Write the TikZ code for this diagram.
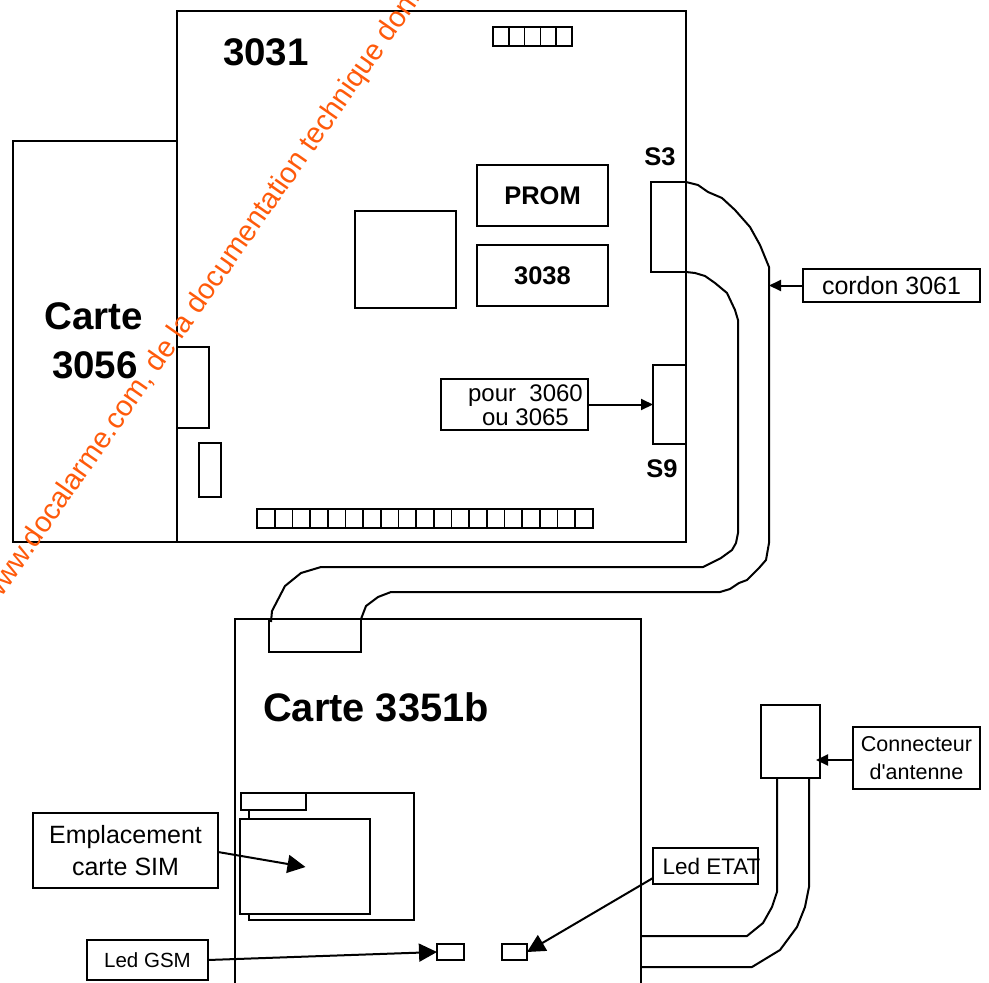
\documentclass[tikz,border=0pt]{standalone}
\usepackage{fontspec}
\setmainfont{Liberation Sans}
\usetikzlibrary{arrows.meta}
\definecolor{wmOrange}{HTML}{FF5A0A}
\newcommand{\fs}[1]{\fontsize{#1}{#1}\selectfont}
\tikzset{
  part/.style={draw, line width=1.7pt, inner sep=0pt, outer sep=0pt, anchor=north west},
  cell/.style={part, minimum width=#1, minimum height=19pt},
  cable/.style={line width=2pt, line join=round},
  title/.style={font=\fs{38.5}\bfseries, inner sep=0pt},
  chip/.style={font=\fs{25.5}\bfseries, inner sep=0pt},
  note/.style={font=\fs{#1}, inner sep=0pt, align=center},
  tipbig/.style={line width=2pt, -{Triangle[length=18pt, width=18pt]}},
  tipsmall/.style={line width=2pt, -{Triangle[length=12pt, width=11pt]}},
}
\begin{document}
\begin{tikzpicture}[x=1pt, y=-1pt]
\clip (0,0) rectangle (989,983);
% cartes
\node[part, minimum width=509pt, minimum height=531pt] (board3031) at (177,11) {};
\node[part, minimum width=164pt, minimum height=401pt] (board3056) at (13,141) {};
\node[part, minimum width=406pt, minimum height=400pt] (board3351) at (235,619) {};
\node[title] (t3031) at (266,52) {3031};
\node[title] (tcarte) at (94,316) {Carte};
\node[title] (t3056) at (95,365) {3056};
\node[title, font=\fs{39.8}\bfseries] (t3351) at (376,707) {Carte 3351b};
% composants 3031
\node[part, minimum width=101pt, minimum height=97pt] (cpu) at (355,211) {};
\node[part, minimum width=131pt, minimum height=61pt] (prom) at (477,165) {};
\node[chip] at (prom.center) {PROM};
\node[part, minimum width=131pt, minimum height=61pt] (c3038) at (477,245) {};
\node[chip] at (c3038.center) {3038};
\node[part, minimum width=32pt, minimum height=81pt] (conn3056) at (177,347) {};
\node[part, minimum width=22pt, minimum height=54pt] (jumper) at (199,443) {};
\node[part, minimum width=35pt, minimum height=90pt] (s3) at (651,182) {};
\node[part, minimum width=33pt, minimum height=79pt] (s9) at (653,365) {};
\node[chip] (ts3) at (660,157) {S3};
\node[chip] (ts9) at (662,469) {S9};
% barrettes
\foreach \i in {0,...,4} {
  \node[cell=15.8pt] (top\i) at (493+15.8*\i,27) {};
}
\foreach \i in {0,...,18} {
  \node[cell=17.68pt] (bot\i) at (257+17.68*\i,509) {};
}
% cordon 3061
\node[part, minimum width=92pt, minimum height=33pt] (sock) at (269,619) {};
\draw[cable] (s3.north east) -- (698,185) -- (708,192) -- (722,198) -- (735,210) -- (750,227)
  -- (760,245) -- (769,267) -- (769,543) -- (766,560) -- (759,568) -- (747,580) -- (739,583)
  -- (730,589) -- (720,592) -- (391,592) -- (378,597) -- (366,606) -- (sock.north east);
\draw[cable] (s3.south east) -- (695,273) -- (705,276) -- (715,283) -- (727,293) -- (735,310)
  -- (738,320) -- (738,533) -- (736,543) -- (732,550) -- (721,558) -- (703,567) -- (321,567)
  -- (301,573) -- (285,586) -- (272,611) -- (271,622);
% etiquettes
\node[part, minimum width=177pt, minimum height=33pt, note=25] (cordon) at (803,269) {cordon 3061};
\coordinate (cordontip) at (769,285.5);
\draw[tipsmall] (cordon.west) -- (cordontip);
\node[part, minimum width=147pt, minimum height=51pt] (pour) at (441,379) {};
\node[note=24] (tpour) at (525.5,405) {pour\ \ 3060\\[0pt]ou 3065};
\draw[tipsmall] (pour.east) -- (s9.west);
% carte 3351b
\node[part, minimum width=165pt, minimum height=127pt] (simout) at (249,793) {};
\node[part, fill=white, minimum width=65pt, minimum height=17pt] (simtab) at (241,793) {};
\node[part, fill=white, minimum width=130pt, minimum height=95pt] (sim) at (240,819) {};
\node[part, minimum width=27pt, minimum height=16pt] (ledgsm) at (437,944) {};
\node[part, minimum width=25pt, minimum height=16pt] (ledetat) at (502,944) {};
\node[part, minimum width=185pt, minimum height=75pt, note=25] (tsim) at (33,813) {Emplacement\\[7pt]carte SIM};
\coordinate (simtip) at (305.5,867);
\draw[tipbig] (218,852) -- (simtip);
\node[part, minimum width=121pt, minimum height=40pt, note=20.5] (tgsm) at (87,940) {Led GSM};
\draw[tipbig] (tgsm.east) -- (ledgsm.west);
\node[part, minimum width=105pt, minimum height=36pt] (tetat) at (653,848) {};
\node[note=22.5] (tetattxt) at (711.5,866) {Led ETAT};
\draw[tipbig] (653,878) -- (ledetat.east);
% antenne
\node[part, minimum width=59pt, minimum height=73pt] (ant) at (761,705) {};
\node[part, minimum width=127pt, minimum height=62pt, note=21.5] (tant) at (853,727) {Connecteur\\[6pt]d\textquotesingle antenne};
\coordinate (anttip) at (816,760);
\draw[tipsmall] (853,760) -- (anttip);
\draw[cable] (777,778) -- (777,892) -- (772,907) -- (763,923) -- (747,936) -- (641,936);
\draw[cable] (809,778) -- (809,887) -- (805,907) -- (797,927) -- (780,950) -- (752,967) -- (641,967);
% filigrane
\node[font=\fs{29}, text=wmOrange, inner sep=0pt, anchor=base west, rotate=55] (wm) at (-4,606)
  {www.docalarme.com, de la documentation technique donn\'ee};
\end{tikzpicture}
\end{document}
